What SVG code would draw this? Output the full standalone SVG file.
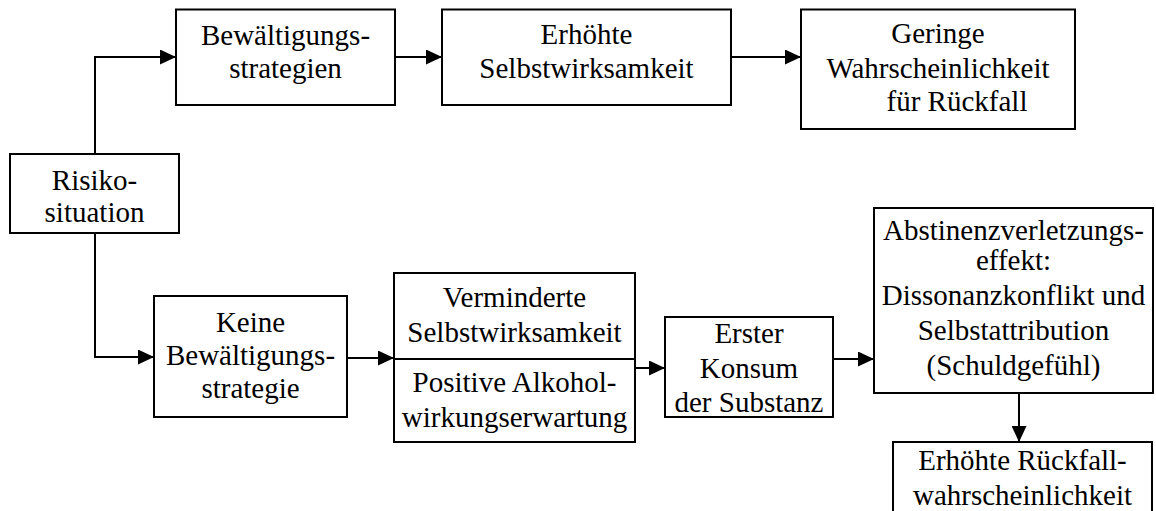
<svg xmlns="http://www.w3.org/2000/svg" width="1156" height="511" viewBox="0 0 1156 511">
<style>
.box{fill:#fff;stroke:#000;stroke-width:2}
text{font-family:'Liberation Serif','Times New Roman','DejaVu Serif',serif;font-size:29px;fill:#000;text-anchor:middle}
.c{fill:none;stroke:#000;stroke-width:2}
</style>
<defs>
<marker id="ah" markerUnits="userSpaceOnUse" markerWidth="16" markerHeight="15" refX="16" refY="7.5" orient="auto">
<path d="M0,0 L16,7.5 L0,15 z" fill="#000"/>
</marker>
</defs>
<rect width="1156" height="511" fill="#fff"/>
<g id="connectors">
<path class="c" d="M95,154 V57 H176" marker-end="url(#ah)"/>
<path class="c" d="M395,57 H442" marker-end="url(#ah)"/>
<path class="c" d="M731,57 H801" marker-end="url(#ah)"/>
<path class="c" d="M95,233 V357 H154" marker-end="url(#ah)"/>
<path class="c" d="M347,358 H394" marker-end="url(#ah)"/>
<path class="c" d="M635,368 H665" marker-end="url(#ah)"/>
<path class="c" d="M833,359 H874" marker-end="url(#ah)"/>
<path class="c" d="M1019,393 V442" marker-end="url(#ah)"/>
</g>
<g id="risiko" font-family="Liberation Serif, serif">
<rect class="box" x="10" y="154" width="169" height="79"/>
<text x="94.5" y="190">Risiko-</text>
<text x="94.5" y="222">situation</text>
</g>
<g id="bewaeltigung">
<rect class="box" x="176" y="9.5" width="219" height="95.5"/>
<text x="285.5" y="45">Bewältigungs-</text>
<text x="285.5" y="78">strategien</text>
</g>
<g id="erhoehte-swk">
<rect class="box" x="442" y="9.5" width="289" height="95.5"/>
<text x="586.5" y="44">Erhöhte</text>
<text x="586.5" y="78">Selbstwirksamkeit</text>
</g>
<g id="geringe">
<rect class="box" x="801" y="9.5" width="274" height="119.5"/>
<text x="938" y="43">Geringe</text>
<text x="938" y="78">Wahrscheinlichkeit</text>
<text x="957" y="111">für Rückfall</text>
</g>
<g id="keine">
<rect class="box" x="154" y="296" width="193" height="121"/>
<text x="250.5" y="332">Keine</text>
<text x="250.5" y="365">Bewältigungs-</text>
<text x="250.5" y="398">strategie</text>
</g>
<g id="verminderte">
<rect class="box" x="394" y="273" width="241" height="169"/>
<line class="c" x1="394" y1="359" x2="635" y2="359"/>
<text x="514.5" y="307">Verminderte</text>
<text x="514.5" y="342">Selbstwirksamkeit</text>
<text x="514.5" y="392">Positive Alkohol-</text>
<text x="514.5" y="427">wirkungserwartung</text>
</g>
<g id="erster">
<rect class="box" x="665" y="317" width="168" height="100"/>
<text x="749" y="343">Erster</text>
<text x="749" y="378">Konsum</text>
<text x="749" y="412">der Substanz</text>
</g>
<g id="abstinenz">
<rect class="box" x="874" y="208" width="279" height="185"/>
<text x="1013.5" y="240">Abstinenzverletzungs-</text>
<text x="1013.5" y="270">effekt:</text>
<text x="1013.5" y="305">Dissonanzkonflikt und</text>
<text x="1013.5" y="340">Selbstattribution</text>
<text x="1013.5" y="375">(Schuldgefühl)</text>
</g>
<g id="erhoehte-rueckfall">
<rect class="box" x="893" y="442" width="259" height="80"/>
<text x="1022.5" y="470">Erhöhte Rückfall-</text>
<text x="1022.5" y="505">wahrscheinlichkeit</text>
</g>
</svg>
